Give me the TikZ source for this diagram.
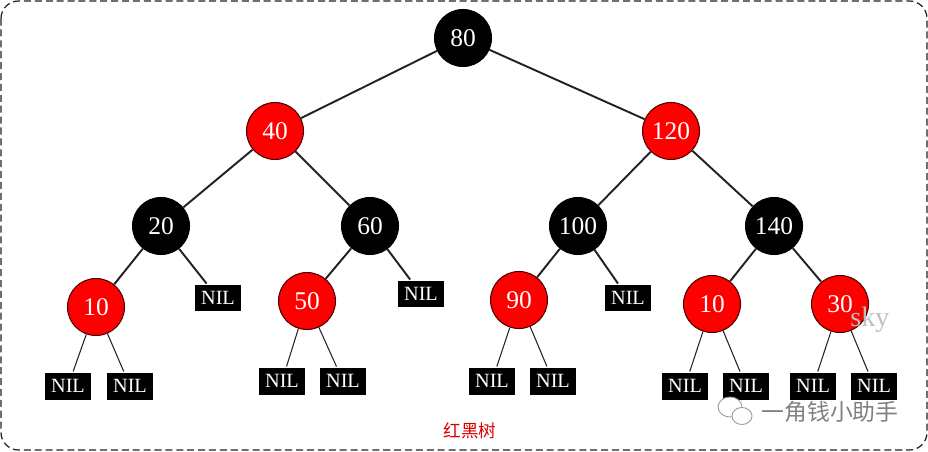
\documentclass[tikz,border=0pt]{standalone}
\usepackage{fontspec}
\setmainfont{Liberation Serif}
\newfontfamily\cjk{Noto Sans CJK SC}

\definecolor{rbred}{HTML}{FF0000}
\definecolor{edgegray}{HTML}{222222}

\begin{document}
\begin{tikzpicture}[x=0.02cm, y=-0.02cm, line width=1.1pt, draw=edgegray,
   blk/.style={circle, draw=black, line width=0.6pt, fill=black, minimum size=1.14cm, inner sep=0pt,
               text=white, font=\fontsize{14.5}{14.5}\selectfont},
   rd/.style={blk, fill=rbred, draw=black!70!red},
   nil/.style={fill=black, text=white, minimum width=0.92cm, minimum height=0.54cm,
               inner sep=0pt, font=\fontsize{11.5}{11.5}\selectfont}]

   \useasboundingbox (0,0) rectangle (928,452);
   \draw[dash pattern=on 4pt off 2.2pt, line width=0.7pt, rounded corners=10pt] (1,1) rectangle (927,450);

   % tree nodes
   \foreach \x/\y/\t/\k/\s in {463/38/80/80/blk, 275/131/40/40/rd, 671/131/120/120/rd,
                            161/226/20/20/blk, 370/226/60/60/blk, 578/226/100/100/blk, 774/226/140/140/blk,
                            96/307/10/10/rd, 307/301/50/50/rd, 519/300/90/90/rd, 712/304/10b/10/rd, 840/304/30/30/rd}
     \node [\s] (v\t) at (\x,\y) {\k};

   \foreach \i/\j in {80/40, 80/120, 40/20, 40/60, 120/100, 120/140,
                      20/10, 60/50, 100/90, 140/10b, 140/30}
    \draw (v\i) -- (v\j);

   % NIL leaves
   \foreach [count=\i] \x/\y/\p/\w in {218/298/20/1.1pt, 421/294/60/1.1pt, 628/298/100/1.1pt,
        68/386/10/0.6pt, 130/386/10/0.6pt, 282/381/50/0.6pt, 343/381/50/0.6pt,
        492/381/90/0.6pt, 553/381/90/0.6pt, 685/386/10b/0.6pt, 746/386/10b/0.6pt,
        813/386/30/0.6pt, 874/386/30/0.6pt}
   {
     \node [nil] (n\i) at (\x,\y) {NIL};
     \draw [line width=\w] (v\p) -- (n\i);
   }

   % caption and watermark
   \node [text=rbred!85!black, font=\cjk\fontsize{10}{10}\selectfont] (cap) at (470,431) {红黑树};
   \node [text=black!25, font=\fontsize{16}{16}\selectfont] (sky) at (870,320) {sky};
   \node [text=black!50, font=\cjk\fontsize{13}{13}\selectfont] (wm) at (830,412) {一角钱小助手};
   \draw [black!40, line width=0.5pt, fill=white] (730,407) ellipse (0.24cm and 0.2cm);
   \draw [black!40, line width=0.5pt, fill=white] (742,416) ellipse (0.2cm and 0.17cm);
\end{tikzpicture}
\end{document}
